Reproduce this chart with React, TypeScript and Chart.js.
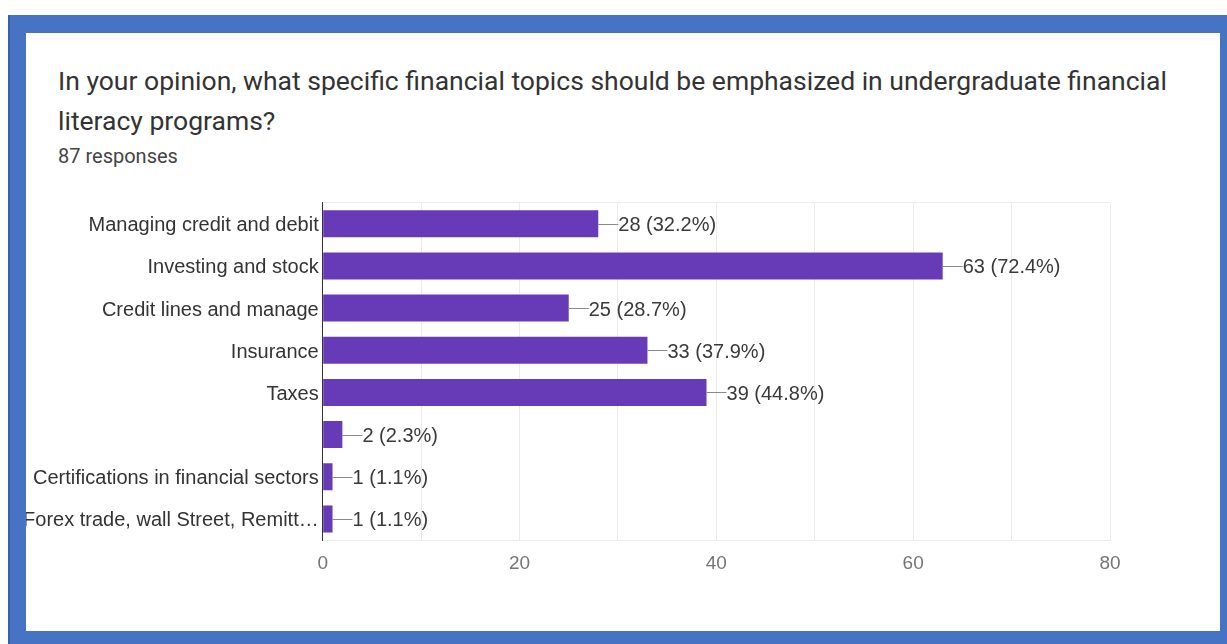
import React, { useEffect, useRef } from "react";
import { Chart, registerables } from "chart.js";

Chart.register(...registerables);

const categories: string[] = [
  "Managing credit and debit",
  "Investing and stock",
  "Credit lines and manage",
  "Insurance",
  "Taxes",
  "",
  "Certifications in financial sectors",
  "Forex trade, wall Street, Remitt…",
];
const counts: number[] = [28, 63, 25, 33, 39, 2, 1, 1];
const totalResponses = 87;
const xTicks: number[] = [0, 20, 40, 60, 80];

const titleLine1 =
  "In your opinion, what specific financial topics should be emphasized in undergraduate financial";
const titleLine2 = "literacy programs?";
const subtitle = `${totalResponses} responses`;

const FONT = '"Liberation Sans", Arial, sans-serif';

export default function App() {
  const canvasRef = useRef<HTMLCanvasElement | null>(null);

  useEffect(() => {
    if (!canvasRef.current) return;
    const valueLabels = {
      id: "valueLabels",
      afterDatasetsDraw(chart: any) {
        const ctx = chart.ctx;
        const meta = chart.getDatasetMeta(0);
        ctx.save();
        meta.data.forEach((el: any, i: number) => {
          const v = counts[i];
          const pct = ((v / totalResponses) * 100).toFixed(1);
          const x = el.x;
          const y = el.y;
          ctx.strokeStyle = "#8a8a8a";
          ctx.lineWidth = 1;
          ctx.beginPath();
          ctx.moveTo(x, Math.round(y) + 0.5);
          ctx.lineTo(x + 20, Math.round(y) + 0.5);
          ctx.stroke();
          ctx.fillStyle = "#3a3a3a";
          ctx.font = `20px ${FONT}`;
          ctx.textBaseline = "middle";
          ctx.textAlign = "left";
          ctx.fillText(`${v} (${pct}%)`, x + 20, y + 2);
        });
        ctx.restore();
      },
    };

    const chart = new Chart(canvasRef.current, {
      type: "bar",
      data: {
        labels: categories,
        datasets: [
          {
            data: counts,
            backgroundColor: "#673AB7",
            borderWidth: 0,
            barPercentage: 0.64,
            categoryPercentage: 1,
          },
        ],
      },
      options: {
        indexAxis: "y",
        animation: false,
        responsive: false,
        maintainAspectRatio: false,
        layout: { padding: { top: 12.7, right: 110, left: 0, bottom: 0 } },
        plugins: {
          legend: { display: false },
          tooltip: { enabled: false },
        },
        scales: {
          x: {
            type: "linear",
            min: 0,
            max: 80,
            afterBuildTicks(scale: any) {
              const t: any[] = [];
              for (let v = 0; v <= 80; v += 10) t.push({ value: v });
              scale.ticks = t;
            },
            afterFit(scale: any) {
              scale.height = 60;
              scale.paddingLeft = 0;
              scale.paddingRight = 0;
            },
            ticks: {
              padding: 12,
              color: "#757575",
              font: { size: 19, family: FONT },
              maxRotation: 0,
              autoSkip: false,
              callback: (value: any) =>
                xTicks.includes(Number(value)) ? String(value) : "",
            },
            grid: {
              drawTicks: false,
              color: (c: any) =>
                c.tick && c.tick.value === 0 ? "rgba(0,0,0,0)" : "#ebebeb",
              lineWidth: 1,
            },
            border: { display: true, color: "#ebebeb", width: 1 },
          },
          y: {
            type: "category",
            afterFit(scale: any) {
              scale.width = 296.7;
              scale.paddingTop = 0;
              scale.paddingBottom = 0;
            },
            ticks: {
              padding: 4,
              labelOffset: 2,
              color: "#333333",
              font: { size: 20, family: FONT },
              autoSkip: false,
            },
            grid: {
              drawTicks: false,
              offset: true,
              color: (c: any) => (c.index === 0 ? "#ebebeb" : "rgba(0,0,0,0)"),
              lineWidth: 1,
            },
            border: { display: true, color: "#333333", width: 1 },
          },
        },
      },
      plugins: [valueLabels],
    } as any);
    return () => chart.destroy();
  }, []);

  return (
    <div
      style={{
        position: "absolute",
        left: 0,
        top: 0,
        width: 1227,
        height: 644,
        background: "#ffffff",
        overflow: "hidden",
      }}
    >
      <div
        style={{
          position: "absolute",
          left: 8,
          top: 15,
          width: 1219,
          height: 629,
          background: "#4773C5",
          borderLeft: "2px solid #3560AE",
          boxSizing: "border-box",
        }}
      />
      <div
        style={{
          position: "absolute",
          left: 26,
          top: 33,
          width: 1194,
          height: 598,
          background: "#ffffff",
        }}
      />
      <div
        style={{
          position: "absolute",
          left: 58,
          top: 61,
          fontFamily: "Roboto, sans-serif",
          fontSize: 26.5,
          lineHeight: "40px",
          color: "#333333",
          whiteSpace: "nowrap",
        }}
      >
        {titleLine1}
        <br />
        {titleLine2}
      </div>
      <div
        style={{
          position: "absolute",
          left: 58,
          top: 144,
          fontFamily: "Roboto, sans-serif",
          fontSize: 20,
          lineHeight: "24px",
          color: "#444444",
          whiteSpace: "nowrap",
        }}
      >
        {subtitle}
      </div>
      <canvas
        ref={canvasRef}
        width={1194}
        height={410}
        style={{
          position: "absolute",
          left: 26,
          top: 190,
          width: 1194,
          height: 410,
        }}
      />
    </div>
  );
}
